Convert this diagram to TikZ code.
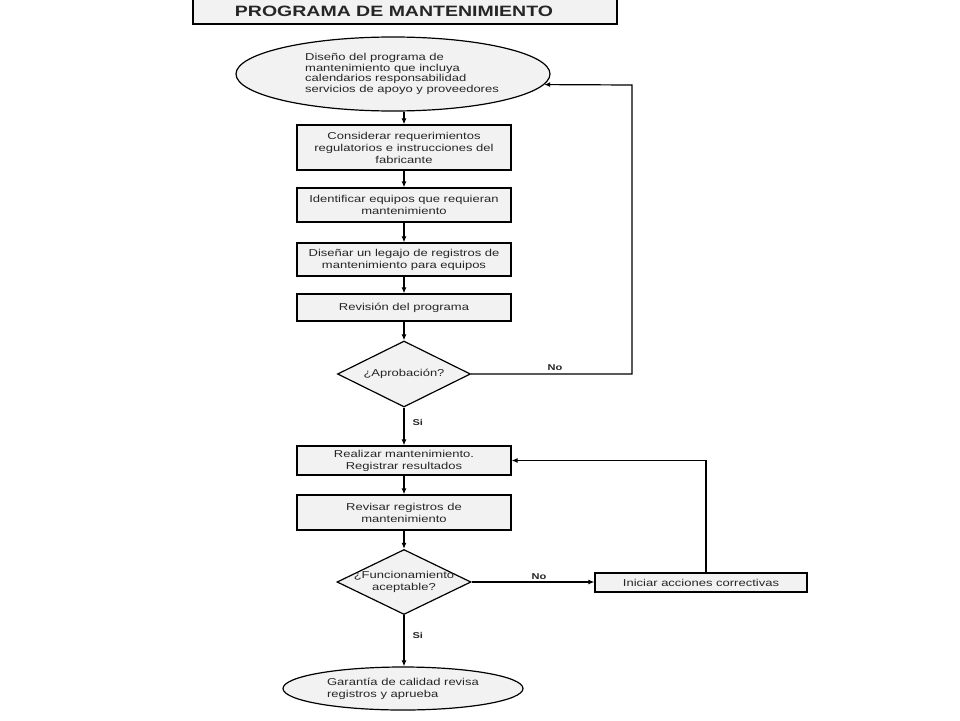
\documentclass[tikz,border=0pt]{standalone}
\usepackage{fontspec}
\setmainfont{Liberation Sans}[FakeStretch=1.3]
\usetikzlibrary{shapes.geometric,arrows.meta}
\definecolor{boxfill}{HTML}{F2F2F2}
\definecolor{txt}{HTML}{262626}
\begin{document}
\begin{tikzpicture}[x=1pt,y=-1pt,
  base/.style={draw=black,line width=1.2pt,fill=boxfill,inner sep=0pt,text=txt,
    font=\fontsize{10}{12}\selectfont},
  box/.style={base,rectangle,minimum width=214pt,align=center},
  oval/.style={base,ellipse},
  decision/.style={base,diamond,aspect=2,align=center},
  arr/.style={line width=1.2pt,-{Latex[length=6pt,width=5pt]}},
  lab/.style={font=\bfseries\fontsize{8.5}{10}\selectfont,text=txt,inner sep=0pt},
  plain/.style={inner sep=0pt,text=txt,font=\fontsize{10}{11.5}\selectfont}]
\useasboundingbox (0,0) rectangle (960,720);
% title
\node[base,rectangle,minimum width=424pt,minimum height=32pt] (title) at (405,8) {};
\node[font=\bfseries\fontsize{15}{18}\selectfont,text=txt,inner sep=0pt] (titletext) at (394,11) {PROGRAMA DE MANTENIMIENTO};
% start ellipse
\node[oval,minimum width=314pt,minimum height=74pt] (e1) at (393,74) {};
\node[plain,align=left,font=\fontsize{10}{10.8}\selectfont] (e1t) at (402,74)
  {Diseño del programa de\\mantenimiento que incluya\\calendarios responsabilidad\\servicios de apoyo y proveedores};
% column
\node[box,minimum height=45pt] (b1) at (404,147.5) {Considerar requerimientos\\regulatorios e instrucciones del\\fabricante};
\node[box,minimum height=34pt] (b2) at (404,205) {Identificar equipos que requieran\\mantenimiento};
\node[box,minimum height=33pt] (b3) at (404,259.5) {Diseñar un legajo de registros de\\mantenimiento para equipos};
\node[box,minimum height=27pt] (b4) at (404,307.5) {Revisión del programa};
\node[decision,minimum width=133pt,minimum height=66pt] (d1) at (404,374) {¿Aprobación?};
\node[box,minimum height=29pt] (b5) at (404,460.5) {Realizar mantenimiento.\\Registrar resultados};
\node[box,minimum height=35pt] (b6) at (404,512.5) {Revisar registros de\\mantenimiento};
\node[decision,minimum width=134pt,minimum height=65pt] (d2) at (404,582) {};
\node[plain,align=center,font=\fontsize{10}{12}\selectfont] (d2t) at (404,582) {¿Funcionamiento\\aceptable?};
\node[box,minimum width=212pt,minimum height=19pt] (b7) at (701,582.5) {Iniciar acciones correctivas};
\node[oval,minimum width=240pt,minimum height=43pt,align=left] (e2) at (403,688.5) {Garantía de calidad revisa\\registros y aprueba};
% connectors
\draw[arr] (b1.north |- e1.south) -- (b1.north);
\draw[arr] (b1) -- (b2);
\draw[arr] (b2) -- (b3);
\draw[arr] (b3) -- (b4);
\draw[arr] (b4) -- (d1);
\draw[arr] (d1) -- node[lab,right=8pt,pos=0.4] (si1) {Si} (b5);
\coordinate (c1) at (632,85);
\draw[arr] (d1.east) -| (c1) -- (e1.-4.2);
\node[lab] (no1) at (555,368) {No};
\draw[arr] (b5) -- (b6);
\draw[arr] (b6) -- (d2);
\draw[arr] (d2.east) -- (d2.east -| b7.west);
\node[lab] (no2) at (539,577) {No};
\draw[arr] ([xshift=5pt]b7.north) |- (b5.east);
\draw[arr] (d2.south) -- node[lab,right=8pt,pos=0.4] (si2) {Si} (d2.south |- e2.north);
\end{tikzpicture}
\end{document}
